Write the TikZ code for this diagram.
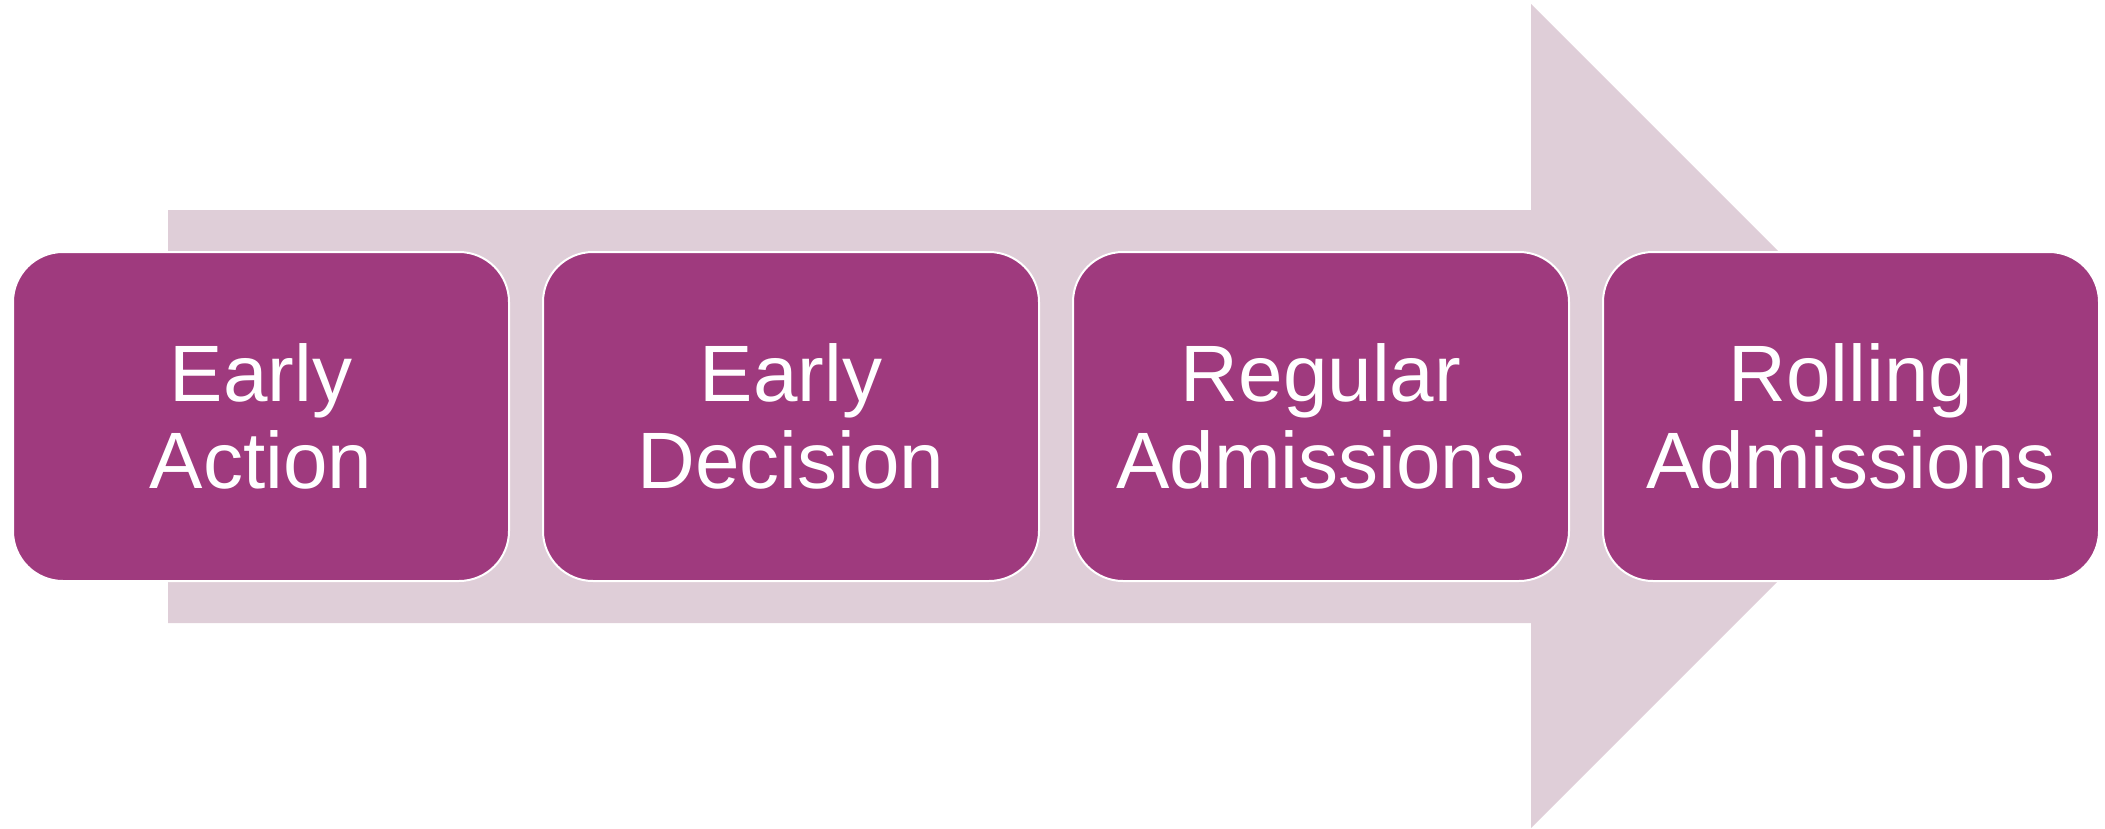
\documentclass[tikz,border=0pt]{standalone}
\usepackage{fontspec}
\setmainfont{Liberation Sans}
\definecolor{boxfill}{RGB}{159,58,126}
\definecolor{arrowfill}{RGB}{223,206,216}
\begin{document}
\begin{tikzpicture}[x=1pt,y=-1pt,
  stagebox/.style={rectangle, rounded corners=50pt, fill=boxfill, draw=white, line width=2pt,
    minimum width=496pt, minimum height=329pt, inner sep=0pt, outer sep=0pt},
  stagetext/.style={text=white, align=center, font=\fontsize{80}{87}\selectfont, inner sep=0pt}]
\useasboundingbox (0,0) rectangle (2105,828);
\fill[arrowfill] (168,210) -- (1531,210) -- (1531,4) -- (1943,416) -- (1531,828) -- (1531,623) -- (168,623) -- cycle;
\node[stagebox] (b1) at (261,416.5) {};
\node[stagebox] (b2) at (791,416.5) {};
\node[stagebox] (b3) at (1321,416.5) {};
\node[stagebox] (b4) at (1851,416.5) {};
\node[stagetext] (t1) at (b1.center) {Early\\Action};
\node[stagetext] (t2) at (b2.center) {Early\\Decision};
\node[stagetext] (t3) at (b3.center) {Regular\\Admissions};
\node[stagetext] (t4) at (b4.center) {Rolling\\Admissions};
\end{tikzpicture}
\end{document}
